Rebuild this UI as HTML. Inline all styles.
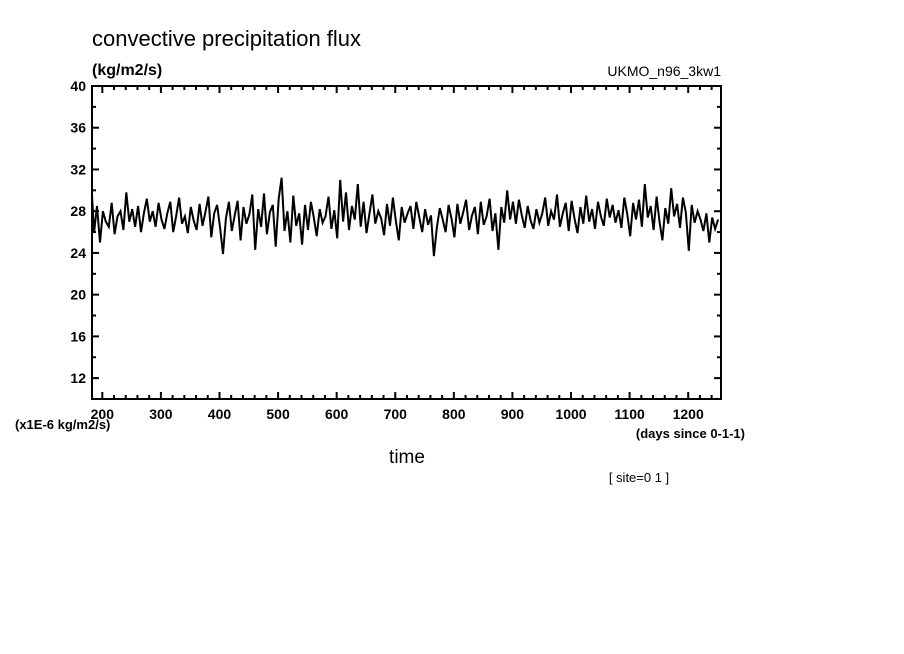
<!DOCTYPE html>
<html><head><meta charset="utf-8"><style>
body{margin:0;background:#fff;}
svg{display:block;font-family:"Liberation Sans",sans-serif;}
</style></head><body>
<svg id="chart" width="904" height="654" viewBox="0 0 904 654">
<text x="92" y="46" font-size="22">convective precipitation flux</text>
<text x="92" y="75" font-size="16" font-weight="bold">(kg/m2/s)</text>
<text x="721" y="76" font-size="14" text-anchor="end">UKMO_n96_3kw1</text>
<g id="axes"></g>
<path id="series" fill="none" stroke="#000" stroke-width="2"/>
<rect x="92" y="86" width="629" height="313" fill="none" stroke="#000" stroke-width="2"/>
<text x="15" y="429" font-size="13" font-weight="bold">(x1E-6 kg/m2/s)</text>
<text x="745" y="438" font-size="13" font-weight="bold" text-anchor="end">(days since 0-1-1)</text>
<text x="407" y="463" font-size="19" text-anchor="middle">time</text>
<text x="639" y="482" font-size="13" text-anchor="middle">[ site=0 1 ]</text>
</svg>
<script>
const yTicks=[12,16,20,24,28,32,36,40];
const xTicks=[200,300,400,500,600,700,800,900,1000,1100,1200];
const startDay=181, stepDays=5;
const values=[29.5,26,28.5,25,28,27,26.5,28.8,25.8,27.5,
28,26.2,29.8,27,28.2,26.5,28.5,26,27.8,29.2,
27,28,26.5,28.8,27.2,26.3,27.8,28.9,26,27.5,
29.3,26.8,27.5,25.9,28.4,27.1,26.2,28.7,26.6,27.9,
29.4,25.5,27.8,28.6,26.4,23.9,27.3,28.9,26.1,27.6,
29,25.2,28.4,26.8,27.7,29.6,24.3,28.2,26.5,29.7,
25.8,27.9,28.6,24.6,29.2,31.2,26.1,28,25,29.5,
26.6,27.8,24.8,28.6,26.2,28.9,27.4,25.6,28.2,26.9,
27.5,29.4,26.3,28.1,25.4,31,27,29.8,26.2,28.5,
27.2,30.6,26.5,28.9,25.9,27.8,29.6,26.8,28,27.3,
25.7,28.7,26.6,29.3,27.1,25.2,28.4,26.9,27.8,28.5,
26.3,28.9,27.4,26,28.2,26.7,27.6,23.7,26.4,28.3,
27.2,26,28.6,27.3,25.5,28.7,26.8,27.9,29.1,26.2,
27.6,28.4,25.8,28.9,26.7,27.5,29.2,26.1,27.8,24.3,
28.4,26.9,30,27.2,28.9,26.8,29.1,27.6,26.4,28.5,
27.1,26.3,28.2,26.9,27.8,29.3,26.6,28,27.2,29.6,
26.5,27.8,28.8,26.1,29,27.3,25.9,28.4,26.8,29.5,
27,28.2,26.3,28.9,27.5,26.6,29.2,27.4,28.6,26.9,
28.1,26.4,29.3,27.7,25.6,28.8,27.2,29.1,26.5,30.6,
27.4,28.5,26.2,29.4,27,25.2,28.3,26.8,30.2,27.5,
28.7,26.4,29.3,27.9,24.2,28.6,26.9,28,27.2,26.1,
27.8,25,27.4,26.3,27.2];
const X0=92,X1=721,Y0=399,Y1=86,DMIN=182.4,DMAX=1256,VMIN=10,VMAX=40;
const xs=d=>X0+(d-DMIN)*(X1-X0)/(DMAX-DMIN);
const ys=v=>Y0-(v-VMIN)*(Y0-Y1)/(VMAX-VMIN);
const NS="http://www.w3.org/2000/svg";
const g=document.getElementById('axes');
function line(x1,y1,x2,y2,name){const l=document.createElementNS(NS,'line');
l.setAttribute('x1',x1);l.setAttribute('y1',y1);l.setAttribute('x2',x2);l.setAttribute('y2',y2);
l.setAttribute('stroke','#000');l.setAttribute('stroke-width','2');


g.appendChild(l);}
function text(x,y,s,anchor,name){const t=document.createElementNS(NS,'text');
t.setAttribute('x',x);t.setAttribute('y',y);t.setAttribute('font-size','14');t.setAttribute('font-weight','bold');t.setAttribute('text-anchor',anchor);t.textContent=s;


g.appendChild(t);}
for(let v=12;v<=40;v+=2){const y=ys(v);const major=(v%4===0);const L=major?7:4;
line(X0,y,X0+L,y,'y-tick');line(X1,y,X1-L,y,'y-tick-right');}
yTicks.forEach(v=>text(X0-6,ys(v)+5,String(v),'end','y-tick-label'));
for(let d=200;d<=1240;d+=20){const x=xs(d);const major=(d%100===0);const L=major?7:4;
line(x,Y0,x,Y0-L,'x-tick');line(x,Y1,x,Y1+L,'x-tick-top');}
xTicks.forEach(d=>text(xs(d),Y0+20,String(d),'middle','x-tick-label'));
let p='';
values.forEach((v,i)=>{const d=startDay+i*stepDays;p+=(i?'L':'M')+xs(Math.max(d,DMIN)).toFixed(1)+','+ys(v).toFixed(1);});
document.getElementById('series').setAttribute('d',p);
</script>
</body></html>
